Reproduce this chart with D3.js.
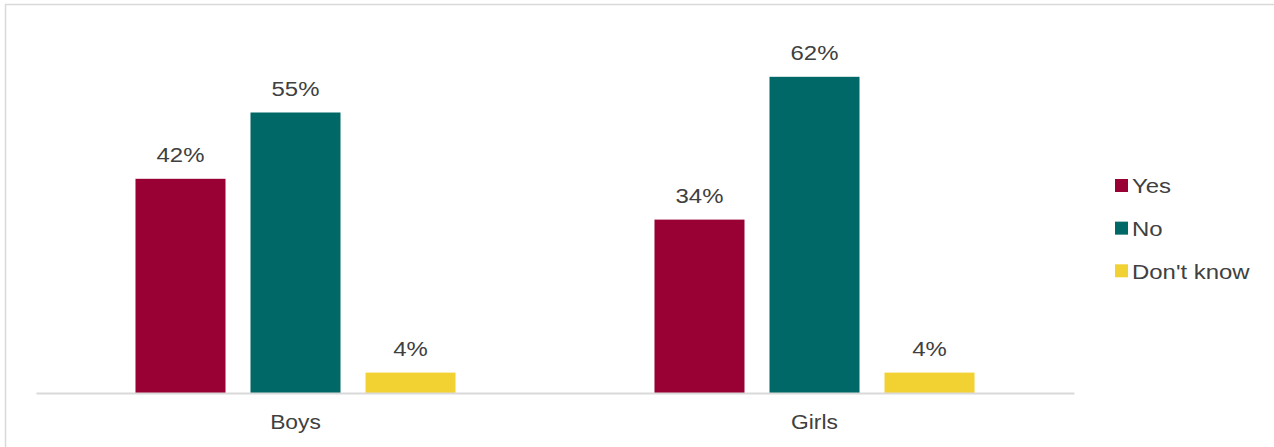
<!DOCTYPE html>
<html>
<head>
<meta charset="utf-8">
<script src="https://cdn.jsdelivr.net/npm/d3@7"></script>
<style>
  html, body { margin: 0; padding: 0; background: #ffffff; }
  svg { display: block; font-family: "Liberation Sans", Arial, sans-serif; }
</style>
</head>
<body>
<svg id="chart" width="1274" height="447"></svg>
<script>
// Survey answers by gender (percent)
const groups = ["Boys", "Girls"];
const answers = ["Yes", "No", "Don't know"];
const yesValues = [42, 34];
const noValues = [55, 62];
const dontKnowValues = [4, 4];
const colors = ["#990033", "#006866", "#f2d233"];

const seriesValues = [yesValues, noValues, dontKnowValues];
const rows = [];
groups.forEach((g, gi) => {
  answers.forEach((a, ai) => {
    rows.push({ group: g, answer: a, value: seriesValues[ai][gi], color: colors[ai] });
  });
});

const svg = d3.select("#chart");
const textColor = "#404040";
const stretch = 1.14; // horizontal text scaling

// Helper: text drawn with a slight horizontal stretch around its anchor
function stretchedText(sel) {
  return sel.attr("transform", function () {
    const x = +this.getAttribute("data-x");
    const y = +this.getAttribute("data-y");
    return `translate(${x},${y}) scale(${stretch},1)`;
  });
}

// Outer frame of the chart area
svg.append("rect")
  .attr("x", 5.5).attr("y", 4.5)
  .attr("width", 1300).attr("height", 500)
  .attr("fill", "none")
  .attr("stroke", "#d9d9d9")
  .attr("stroke-width", 1.5);

const plotLeft = 36, plotRight = 1074, baseY = 393;

const x0 = d3.scaleBand()
  .domain(groups)
  .range([plotLeft, plotRight])
  .paddingInner(0)
  .paddingOuter(0);

const x1 = d3.scaleBand()
  .domain(answers)
  .range([0, x0.bandwidth()])
  .paddingInner(25 / 115)
  .paddingOuter(0.865);

const y = d3.scaleLinear()
  .domain([0, 70])
  .range([baseY, baseY - 357]);

// Bars
svg.append("g")
  .selectAll("rect")
  .data(rows)
  .join("rect")
  .attr("x", d => x0(d.group) + x1(d.answer))
  .attr("y", d => y(d.value))
  .attr("width", x1.bandwidth())
  .attr("height", d => y(0) - y(d.value))
  .attr("fill", d => d.color);

// Value labels
svg.append("g")
  .selectAll("text")
  .data(rows)
  .join("text")
  .attr("data-x", d => x0(d.group) + x1(d.answer) + x1.bandwidth() / 2)
  .attr("data-y", d => y(d.value) - 16.5)
  .attr("text-anchor", "middle")
  .attr("font-size", 21)
  .attr("fill", textColor)
  .text(d => d.value + "%")
  .call(stretchedText);

// Category axis
const xAxis = svg.append("g")
  .attr("transform", `translate(0,${baseY})`)
  .call(d3.axisBottom(x0).tickSize(0).tickPadding(0).tickSizeOuter(0));
xAxis.select(".domain")
  .attr("stroke", "#d9d9d9")
  .attr("stroke-width", 2);
xAxis.selectAll(".tick text").remove();
xAxis.selectAll(".tick")
  .append("text")
  .attr("data-x", 0)
  .attr("data-y", 35.5)
  .attr("text-anchor", "middle")
  .attr("font-size", 20)
  .attr("fill", textColor)
  .attr("font-family", "Liberation Sans, Arial, sans-serif")
  .text(d => d)
  .call(stretchedText);

// Legend
const legendY = d3.scalePoint()
  .domain(answers)
  .range([179, 264.3]);

const legend = svg.append("g")
  .selectAll("g")
  .data(answers)
  .join("g");

legend.append("rect")
  .attr("x", 1115)
  .attr("y", d => legendY(d))
  .attr("width", 13)
  .attr("height", 13)
  .attr("fill", (d, i) => colors[i]);

legend.append("text")
  .attr("data-x", 1132)
  .attr("data-y", d => legendY(d) + 14.3)
  .attr("font-size", 21)
  .attr("fill", textColor)
  .text(d => d)
  .call(stretchedText);
</script>
</body>
</html>
